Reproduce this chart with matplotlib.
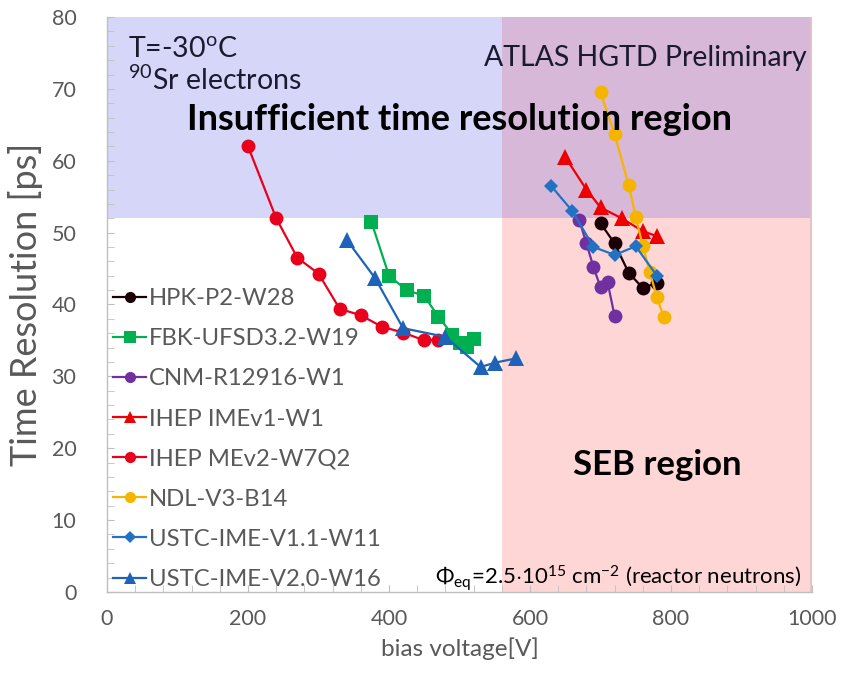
import matplotlib
matplotlib.use("Agg")
import matplotlib.pyplot as plt
from matplotlib.patches import Rectangle
from matplotlib.ticker import MultipleLocator

plt.rcParams['font.family'] = ['Lato', 'DejaVu Sans']
plt.rcParams['mathtext.fontset'] = 'custom'
plt.rcParams['mathtext.rm'] = 'Lato'
plt.rcParams['mathtext.it'] = 'Lato:italic'
plt.rcParams['mathtext.bf'] = 'Lato:bold'

# ── Time resolution vs bias voltage per sensor ─────────────
hpk_v = [700, 720, 740, 760, 780]
hpk_t = [51.3, 48.5, 44.4, 42.3, 43.0]

fbk_v = [375, 400, 425, 450, 470, 490, 500, 510, 520]
fbk_t = [51.5, 44.0, 42.0, 41.2, 38.3, 35.8, 34.7, 34.1, 35.2]

cnm_v = [670, 680, 690, 700, 710, 720]
cnm_t = [51.7, 48.5, 45.2, 42.4, 43.1, 38.4]

imev1_v = [650, 680, 700, 730, 760, 780]
imev1_t = [60.5, 56.0, 53.5, 52.0, 50.2, 49.5]

mev2_v = [200, 240, 270, 300, 330, 360, 390, 420, 450, 470]
mev2_t = [62.0, 52.0, 46.5, 44.3, 39.4, 38.5, 36.9, 36.1, 35.0, 35.1]

ndl_v = [700, 720, 740, 750, 760, 770, 780, 790]
ndl_t = [69.5, 63.7, 56.6, 52.2, 48.1, 44.5, 41.0, 38.2]

ustc11_v = [630, 660, 690, 720, 750, 780]
ustc11_t = [56.5, 53.0, 48.0, 46.9, 48.1, 44.0]

ustc20_v = [340, 380, 420, 480, 530, 550, 580]
ustc20_t = [49.0, 43.7, 36.7, 35.5, 31.3, 31.9, 32.5]

# region boundaries
res_limit = 52     # ps, above this the resolution is insufficient
seb_limit = 560    # V, above this single event burnout risk

series = [
    ("HPK-P2-W28",        hpk_v,    hpk_t,    '#1a0005', 'o'),
    ("FBK-UFSD3.2-W19",   fbk_v,    fbk_t,    '#00b050', 's'),
    ("CNM-R12916-W1",     cnm_v,    cnm_t,    '#7030a0', 'o'),
    ("IHEP IMEv1-W1",     imev1_v,  imev1_t,  '#ee0000', '^'),
    ("IHEP MEv2-W7Q2",    mev2_v,   mev2_t,   '#e8001c', 'o'),
    ("NDL-V3-B14",        ndl_v,    ndl_t,    '#f5b400', 'o'),
    ("USTC-IME-V1.1-W11", ustc11_v, ustc11_t, '#2272c3', 'D'),
    ("USTC-IME-V2.0-W16", ustc20_v, ustc20_t, '#1f63b8', '^'),
]
marker_sizes = {'o': 10, 's': 10, '^': 11, 'D': 7.5}

grey = '#595959'

fig = plt.figure(figsize=(8.44, 6.73), dpi=100)
ax = fig.add_axes([0.1268, 0.1204, 0.8353, 0.8543])
ax.set_xlim(0, 1000)
ax.set_ylim(0, 80)

# shaded regions
ax.add_patch(Rectangle((0, res_limit), seb_limit, 80 - res_limit,
                       facecolor='#d6d6f8', edgecolor='none', zorder=0))
ax.add_patch(Rectangle((seb_limit, 0), 1000 - seb_limit, res_limit,
                       facecolor='#fed6d6', edgecolor='none', zorder=0))
ax.add_patch(Rectangle((seb_limit, res_limit), 1000 - seb_limit, 80 - res_limit,
                       facecolor='#d8b8d9', edgecolor='none', zorder=0))
ax.plot([998, 998], [0, 80], color='#e6c0c8', lw=2, zorder=0.5)

for label, v, t, col, mk in series:
    ax.plot(v, t, color=col, lw=1.6, marker=mk, markersize=marker_sizes[mk],
            markeredgewidth=0, label=label, zorder=3)

# axes styling
for side in ('top', 'right'):
    ax.spines[side].set_visible(False)
for side in ('left', 'bottom'):
    ax.spines[side].set_color('#bfbfbf')
    ax.spines[side].set_linewidth(1)

ax.xaxis.set_major_locator(MultipleLocator(200))
ax.xaxis.set_minor_locator(MultipleLocator(40))
ax.yaxis.set_major_locator(MultipleLocator(10))
ax.yaxis.set_minor_locator(MultipleLocator(2))
ax.tick_params(which='both', direction='in', color='#bfbfbf', labelcolor=grey,
               labelsize=15.5)
ax.tick_params(which='major', length=5, pad=12)
ax.tick_params(which='minor', length=5)
ax.tick_params(axis='y', which='major', pad=22)

ax.set_xlabel('bias voltage[V]', fontsize=17.5, color=grey, labelpad=6)
ax.set_ylabel('Time Resolution [ps]', fontsize=26, color=grey, labelpad=6)

# annotations
ax.text(30, 75.6, 'T=-30$^{\\rm o}$C', fontsize=20.5, color='#1a1a30',
        va='center', ha='left')
ax.text(30, 71.2, '$^{90}$Sr electrons', fontsize=20.5, color='#1a1a30',
        va='center', ha='left')
ax.text(535, 74.3, 'ATLAS HGTD Preliminary', fontsize=20.5, color='#1a1a30',
        va='center', ha='left')
ax.text(500, 65.7, 'Insufficient time resolution region', fontsize=26,
        fontweight='bold', color='black', va='center', ha='center')
ax.text(780, 17.6, 'SEB region', fontsize=25, fontweight='bold',
        color='black', va='center', ha='center')
ax.text(985, 1.9, '$\\Phi_{\\rm eq}$=2.5$\\cdot$10$^{15}$ cm$^{-2}$ (reactor neutrons)',
        fontsize=16, color='black', va='center', ha='right')

leg = ax.legend(loc='upper left', bbox_to_anchor=(-0.005, 0.545),
                frameon=False, fontsize=17.2, handlelength=1.4,
                handletextpad=0.1, labelspacing=0.8, borderaxespad=0,
                markerscale=0.8)
for txt in leg.get_texts():
    txt.set_color(grey)

fig.savefig('out.png', dpi=100)
